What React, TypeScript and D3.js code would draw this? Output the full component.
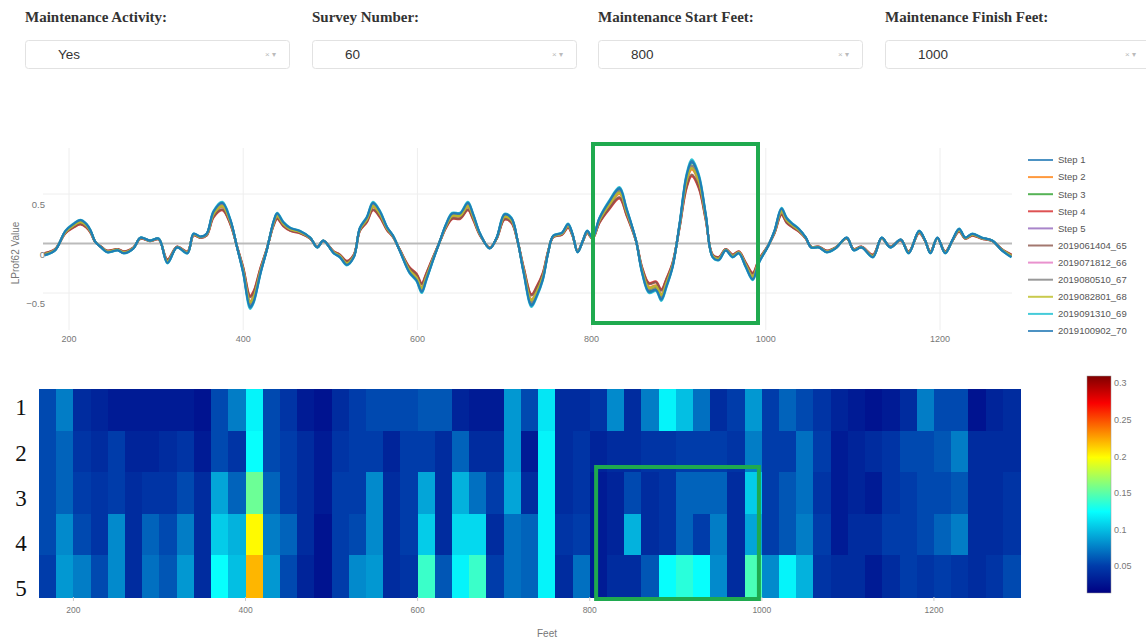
import React from 'react';
import * as d3 from 'd3';

// ---- filter bar ----
const filterLabels = ['Maintenance Activity:', 'Survey Number:', 'Maintenance Start Feet:', 'Maintenance Finish Feet:'];
const filterValues = ['Yes', '60', '800', '1000'];
const filterLeft = [25, 312, 598, 885];

// ---- LProf62 profile (feet, value) ----
const feet = [
  172, 184, 196, 205, 213, 220, 225, 230, 237, 244, 256, 263, 274, 282, 293, 303, 313, 324, 336, 343,
  351, 358, 366, 376, 385, 393, 400, 408, 412, 420, 427, 435, 439, 446, 454, 465, 477, 485, 492, 504,
  511, 519, 527, 534, 542, 549, 557, 565, 572, 580, 591, 599, 605, 610, 618, 626, 633, 640, 649, 658,
  664, 672, 683, 691, 700, 708, 715, 722, 731, 737, 744, 750, 756, 766, 773, 778, 784, 790, 795, 801,
  809, 820, 832, 840, 851, 858, 866, 874, 880, 886, 893, 901, 909, 915, 923, 931, 939, 946, 954, 962,
  969, 977, 985, 992, 1003, 1010, 1018, 1024, 1031, 1038, 1046, 1052, 1061, 1070, 1080, 1093, 1101, 1110, 1123, 1133,
  1143, 1155, 1164, 1176, 1183, 1189, 1197, 1206, 1214, 1222, 1229, 1237, 1248, 1260, 1271, 1282,
];
const lprof = [
  -0.12, -0.07, 0.13, 0.2, 0.24, 0.2, 0.13, 0.02, -0.04, -0.09, -0.07, -0.1, -0.05, 0.06, 0.03, 0.05, -0.2, -0.04, -0.1, 0.1,
  0.07, 0.1, 0.33, 0.42, 0.25, -0.04, -0.3, -0.66, -0.6, -0.3, -0.07, 0.23, 0.31, 0.22, 0.16, 0.13, 0.06, -0.04, 0.03, -0.1,
  -0.14, -0.22, -0.14, 0.16, 0.27, 0.42, 0.33, 0.17, 0.08, -0.08, -0.3, -0.38, -0.5, -0.38, -0.17, 0.03, 0.2, 0.31, 0.31, 0.42,
  0.3, 0.1, -0.05, 0.06, 0.3, 0.26, 0.03, -0.3, -0.64, -0.54, -0.37, -0.1, 0.08, 0.11, 0.2, 0.1, -0.09, 0.03, 0.13, 0.06,
  0.26, 0.43, 0.57, 0.36, 0.03, -0.3, -0.5, -0.48, -0.58, -0.44, -0.24, 0.2, 0.7, 0.85, 0.7, 0.3, -0.14, -0.17, -0.07, -0.14,
  -0.1, -0.24, -0.37, -0.2, -0.02, 0.13, 0.36, 0.26, 0.2, 0.15, 0.06, -0.04, -0.04, -0.09, -0.05, 0.06, -0.07, -0.04, -0.14, 0.06,
  -0.04, 0.04, -0.1, 0.13, 0.03, -0.1, 0.06, -0.1, 0.03, 0.15, 0.06, 0.1, 0.06, 0.03, -0.07, -0.14,
];

// ---- traces: names, colours, amplitude relative to the profile ----
const seriesNames = [
  'Step 1', 'Step 2', 'Step 3', 'Step 4', 'Step 5',
  '2019061404_65', '2019071812_66', '2019080510_67', '2019082801_68', '2019091310_69', '2019100902_70',
];
const seriesColors = [
  '#1f77b4', '#ff7f0e', '#2ca02c', '#d62728', '#9467bd',
  '#8c564b', '#e377c2', '#7f7f7f', '#bcbd22', '#17becf', '#1f77b4',
];
const seriesGain = [0.96, 0.88, 0.93, 0.8, 0.9, 0.82, 0.92, 0.92, 0.9, 1.0, 0.98];

// ---- heatmap: 20 ft cells from 160 to 1300, rows 1..5 ----
const cellStart = 160;
const cellStep = 20;
const rowLabels = ['1', '2', '3', '4', '5'];
const row1 = [
  0.055, 0.075, 0.04, 0.035, 0.03, 0.03, 0.03, 0.03, 0.03, 0.025, 0.055, 0.075, 0.12, 0.055, 0.045, 0.03, 0.025, 0.04, 0.05,
  0.055, 0.055, 0.055, 0.06, 0.06, 0.035, 0.03, 0.03, 0.085, 0.055, 0.115, 0.04, 0.04, 0.045, 0.08, 0.04, 0.075, 0.12, 0.1,
  0.07, 0.04, 0.05, 0.085, 0.05, 0.065, 0.055, 0.045, 0.035, 0.03, 0.025, 0.03, 0.04, 0.075, 0.055, 0.055, 0.025, 0.035, 0.04,
];
const row2 = [
  0.055, 0.065, 0.045, 0.04, 0.05, 0.035, 0.035, 0.04, 0.045, 0.03, 0.055, 0.045, 0.125, 0.055, 0.05, 0.04, 0.03, 0.045, 0.05,
  0.05, 0.035, 0.05, 0.05, 0.04, 0.065, 0.04, 0.04, 0.085, 0.03, 0.12, 0.04, 0.045, 0.035, 0.04, 0.04, 0.045, 0.045, 0.05,
  0.05, 0.05, 0.045, 0.075, 0.05, 0.05, 0.07, 0.05, 0.03, 0.035, 0.04, 0.045, 0.055, 0.055, 0.06, 0.075, 0.04, 0.04, 0.04,
];
const row3 = [
  0.055, 0.065, 0.05, 0.045, 0.05, 0.04, 0.045, 0.045, 0.055, 0.04, 0.09, 0.065, 0.155, 0.065, 0.05, 0.04, 0.03, 0.05, 0.05,
  0.08, 0.04, 0.05, 0.09, 0.04, 0.095, 0.07, 0.05, 0.09, 0.04, 0.12, 0.04, 0.045, 0.03, 0.035, 0.055, 0.04, 0.045, 0.065,
  0.065, 0.065, 0.04, 0.105, 0.05, 0.06, 0.07, 0.045, 0.03, 0.035, 0.03, 0.045, 0.05, 0.055, 0.055, 0.06, 0.04, 0.04, 0.045,
];
const row4 = [
  0.055, 0.08, 0.055, 0.045, 0.08, 0.04, 0.065, 0.055, 0.075, 0.04, 0.105, 0.095, 0.2, 0.075, 0.065, 0.04, 0.025, 0.05, 0.055,
  0.08, 0.04, 0.05, 0.105, 0.04, 0.11, 0.11, 0.04, 0.07, 0.065, 0.12, 0.045, 0.05, 0.03, 0.035, 0.095, 0.04, 0.045, 0.065,
  0.05, 0.075, 0.04, 0.09, 0.05, 0.06, 0.075, 0.05, 0.03, 0.04, 0.04, 0.05, 0.05, 0.055, 0.065, 0.075, 0.04, 0.04, 0.045,
];
const row5 = [
  0.05, 0.085, 0.075, 0.055, 0.08, 0.04, 0.07, 0.06, 0.085, 0.04, 0.125, 0.1, 0.22, 0.085, 0.055, 0.035, 0.025, 0.05, 0.08,
  0.085, 0.04, 0.045, 0.14, 0.06, 0.12, 0.14, 0.05, 0.07, 0.065, 0.12, 0.04, 0.07, 0.03, 0.04, 0.04, 0.06, 0.125, 0.135,
  0.125, 0.08, 0.04, 0.145, 0.08, 0.12, 0.095, 0.045, 0.04, 0.04, 0.03, 0.04, 0.05, 0.045, 0.05, 0.045, 0.04, 0.045, 0.055,
];
const heatRows = [row1, row2, row3, row4, row5];

const zRange = [0.013, 0.31];
const colorTicks = [0.05, 0.1, 0.15, 0.2, 0.25, 0.3];
const xTicks = [200, 400, 600, 800, 1000, 1200];
const yTicks = [-0.5, 0, 0.5];

// highlighted maintenance window (feet)
const windowFeet = [808, 996];

// Jet colour scale
const jetStops = [0, 0.125, 0.375, 0.625, 0.875, 1];
const jetColors = ['rgb(0,0,131)', 'rgb(0,60,170)', 'rgb(5,255,255)', 'rgb(255,255,0)', 'rgb(250,0,0)', 'rgb(128,0,0)'];

const GRAY_TEXT = '#777';
const SANS = 'Arial, "Liberation Sans", sans-serif';
const SERIF = '"Times New Roman", "Liberation Serif", serif';

export default function App() {
  // line chart geometry
  const lx = d3.scaleLinear().domain([200, 1200]).range([69, 940]);
  const ly = d3.scaleLinear().domain([-0.5, 0.5]).range([293, 194]);
  const plotL = 43, plotR = 1012, plotT = 148, plotB = 330;

  const line = d3
    .line<number>()
    .x((_, i) => lx(feet[i]))
    .y((v) => ly(v))
    .curve(d3.curveCatmullRom.alpha(0.5));

  // heatmap geometry
  const hx = d3.scaleLinear().domain([160, 1300]).range([39, 1020]);
  const hy = d3.scaleBand<string>().domain(rowLabels).range([389, 597]);
  const frac = d3.scaleLinear().domain(zRange).range([0, 1]).clamp(true);
  const jet = d3.scaleLinear<string>().domain(jetStops).range(jetColors).interpolate(d3.interpolateRgb);
  const color = (v: number) => jet(frac(v));

  // colorbar geometry
  const cbX = 1087, cbW = 24;
  const cy = d3.scaleLinear().domain(zRange).range([593, 376]);

  const rowLabelY = [407, 453, 498, 543, 588];
  const legendY0 = 160, legendStep = 17.1;

  return (
    <svg width={1146} height={641} style={{ position: 'absolute', left: 0, top: 0, background: '#fff' }}>
      <defs>
        <linearGradient id="jetbar" x1="0" y1="1" x2="0" y2="0">
          {jetStops.map((s, i) => (
            <stop key={i} offset={s} stopColor={jetColors[i]} />
          ))}
        </linearGradient>
      </defs>

      {/* filter bar */}
      {filterLabels.map((lab, i) => (
        <g key={lab}>
          <text x={filterLeft[i]} y={22} fontFamily={SERIF} fontWeight="bold" fontSize={15} fill="#333">
            {lab}
          </text>
          <rect x={filterLeft[i] + 0.5} y={40.5} width={264} height={28} rx={3} fill="#fff" stroke="#e2e2e2" />
          <text x={filterLeft[i] + 33} y={59} fontFamily={SANS} fontSize={13.5} fill="#333">
            {filterValues[i]}
          </text>
          <text x={filterLeft[i] + 240} y={57} fontFamily={SANS} fontSize={8} fill="#bbb">
            × ▾
          </text>
        </g>
      ))}

      {/* line chart grid */}
      {xTicks.map((t) => (
        <line key={t} x1={lx(t)} x2={lx(t)} y1={plotT} y2={plotB} stroke="#eee" strokeWidth={1} />
      ))}
      {yTicks.filter((t) => t !== 0).map((t) => (
        <line key={t} x1={plotL} x2={plotR} y1={ly(t)} y2={ly(t)} stroke="#eee" strokeWidth={1} />
      ))}
      <line x1={plotL} x2={plotR} y1={ly(0)} y2={ly(0)} stroke="#bbb" strokeWidth={2} />

      {/* traces */}
      {seriesNames.map((name, s) => (
        <path
          key={name}
          d={line(lprof.map((v) => v * seriesGain[s])) || ''}
          fill="none"
          stroke={seriesColors[s]}
          strokeWidth={2.2}
          strokeOpacity={0.9}
          strokeLinejoin="round"
        />
      ))}

      {/* line chart axes labels */}
      {yTicks.map((t) => (
        <text
          key={t}
          x={45}
          y={ly(t) + 11}
          dy="0.35em"
          textAnchor="end"
          fontFamily={SANS}
          fontSize={9.5}
          fill={GRAY_TEXT}
        >
          {t === 0 ? '0' : t < 0 ? '−0.5' : '0.5'}
        </text>
      ))}
      {xTicks.map((t) => (
        <text key={t} x={lx(t)} y={339} dy="0.35em" textAnchor="middle" fontFamily={SANS} fontSize={9} fill={GRAY_TEXT}>
          {t}
        </text>
      ))}
      <text
        transform="translate(15,253) rotate(-90)"
        textAnchor="middle"
        dy="0.35em"
        fontFamily={SANS}
        fontSize={10}
        fill={GRAY_TEXT}
      >
        LProf62 Value
      </text>

      {/* legend */}
      {seriesNames.map((name, s) => (
        <g key={name} transform={`translate(0,${legendY0 + s * legendStep})`}>
          <line x1={1028} x2={1053} y1={0} y2={0} stroke={seriesColors[s]} strokeWidth={2} strokeOpacity={0.8} />
          <text x={1058} y={0} dy="0.35em" fontFamily={SANS} fontSize={9.5} fill="#555">
            {name}
          </text>
        </g>
      ))}

      {/* window highlight on the line chart */}
      <rect x={593} y={144} width={165} height={179} fill="none" stroke="#1faa4f" strokeWidth={4} />

      {/* heatmap */}
      <g shapeRendering="crispEdges">
        {heatRows.map((row, r) =>
          row.map((v, c) => {
            const f0 = cellStart + c * cellStep;
            return (
              <rect
                key={`${r}-${c}`}
                x={hx(f0)}
                y={hy(rowLabels[r])}
                width={hx(f0 + cellStep) - hx(f0) + 0.6}
                height={hy.bandwidth() + 0.6}
                fill={color(v)}
              />
            );
          })
        )}
      </g>
      {rowLabels.map((lab, r) => (
        <text key={lab} x={21} y={rowLabelY[r]} dy="0.35em" textAnchor="middle" fontFamily={SERIF} fontSize={23} fill="#111">
          {lab}
        </text>
      ))}
      {xTicks.map((t) => (
        <g key={t}>
          <line x1={hx(t)} x2={hx(t)} y1={597} y2={601} stroke="#ccc" />
          <text x={hx(t)} y={610} dy="0.35em" textAnchor="middle" fontFamily={SANS} fontSize={8.5} fill={GRAY_TEXT}>
            {t}
          </text>
        </g>
      ))}
      <text x={547} y={633} dy="0.35em" textAnchor="middle" fontFamily={SANS} fontSize={10} fill={GRAY_TEXT}>
        Feet
      </text>

      {/* window highlight on the heatmap */}
      <rect x={hx(windowFeet[0]) - 0.5} y={467} width={hx(windowFeet[1]) - hx(windowFeet[0]) + 1} height={132} fill="none" stroke="#1faa4f" strokeWidth={4} />

      {/* colorbar */}
      <rect x={cbX} y={cy(zRange[1])} width={cbW} height={cy(zRange[0]) - cy(zRange[1])} fill="url(#jetbar)" stroke="#999" strokeWidth={0.5} />
      {colorTicks.map((t) => (
        <text key={t} x={cbX + cbW + 3} y={cy(t)} dy="0.35em" fontFamily={SANS} fontSize={9} fill={GRAY_TEXT}>
          {t}
        </text>
      ))}
    </svg>
  );
}
